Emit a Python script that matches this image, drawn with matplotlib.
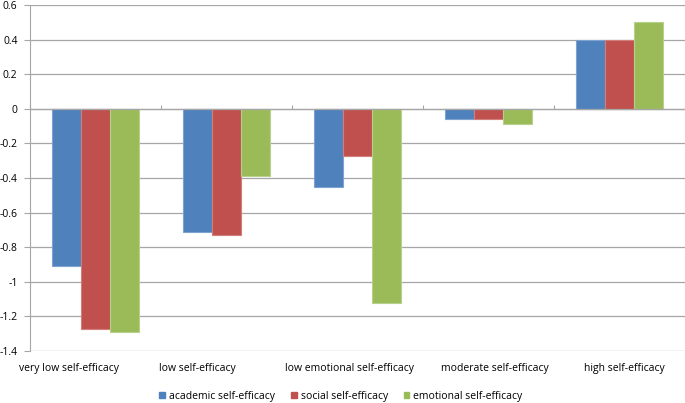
import numpy as np
import matplotlib
matplotlib.use("Agg")
import matplotlib.pyplot as plt
from matplotlib.patches import Patch

categories = ["very low self-efficacy", "low self-efficacy", "low emotional self-efficacy",
              "moderate self-efficacy", "high self-efficacy"]
series_names = ["academic self-efficacy", "social self-efficacy", "emotional self-efficacy"]
academic = [-0.91, -0.71, -0.45, -0.06, 0.40]
social = [-1.27, -0.73, -0.27, -0.06, 0.40]
emotional = [-1.29, -0.39, -1.12, -0.085, 0.50]
y_ticks = [0.6, 0.4, 0.2, 0, -0.2, -0.4, -0.6, -0.8, -1, -1.2, -1.4]

colors = ["#4F81BD", "#C0504D", "#9BBB59"]
edges = ["#7FA3D1", "#D27E7C", "#B7D08A"]
# the original label placement is not exactly centred under each group
label_shift = [-0.2, -0.22, -0.06, 0.05, 0.04]

plt.rcParams["font.family"] = ["Open Sans", "DejaVu Sans"]

fig = plt.figure(figsize=(6.85, 4.03), dpi=100)
ax = fig.add_axes([30 / 685, 1 - 351 / 403, 655 / 685, 346 / 403])

x = np.arange(len(categories))
width = 0.222
for i, vals in enumerate([academic, social, emotional]):
    ax.bar(x + (i - 1) * width, vals, width, color=colors[i], edgecolor=edges[i],
           linewidth=0.8, zorder=3, label=series_names[i])

ax.set_xlim(-0.5, len(categories) - 0.5)
ax.set_ylim(-1.4, 0.6)
ax.set_yticks(y_ticks)
ax.set_yticklabels([f"{t:g}" for t in y_ticks], fontsize=7.5)
ax.grid(axis="y", color="#A6A6A6", linewidth=0.9, zorder=0)
ax.tick_params(axis="y", length=4, color="#A6A6A6", pad=5)

for s in ["top", "right", "bottom"]:
    ax.spines[s].set_visible(False)
ax.spines["left"].set_color("#A6A6A6")

# category labels below the plot
ax.set_xticks(x + np.array(label_shift))
ax.set_xticklabels(categories, fontsize=7.5)
ax.tick_params(axis="x", length=0, pad=9)

# horizontal axis crossing at zero with ticks at category boundaries
ax.axhline(0, color="#A6A6A6", linewidth=0.9, zorder=4)
sec = ax.secondary_xaxis(0.7)
sec.set_xticks(np.arange(len(categories) + 1) - 0.5)
sec.set_xticklabels([])
sec.tick_params(axis="x", direction="out", length=3, color="#A6A6A6")
sec.spines["bottom"].set_visible(False)
sec.spines["top"].set_visible(False)

handles = [Patch(facecolor=c, edgecolor=c) for c in colors]
fig.legend(handles, series_names, loc="center", bbox_to_anchor=(341 / 685, 1 - 396 / 403),
           ncol=3, frameon=False, fontsize=7.5, handlelength=0.55, handleheight=0.55,
           handletextpad=0.4, columnspacing=1.5)

fig.savefig("out.png", dpi=100)
